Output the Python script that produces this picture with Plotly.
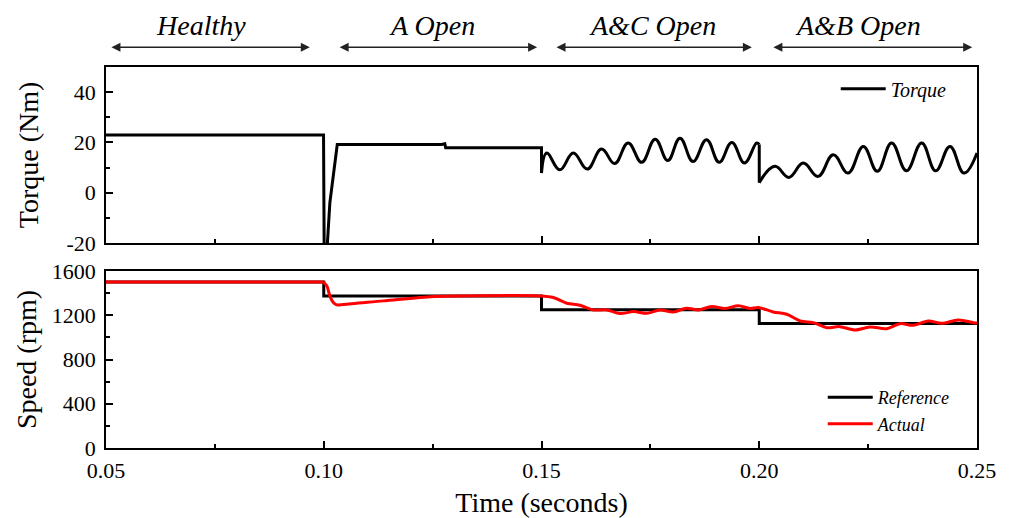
import plotly.graph_objects as go
from plotly.subplots import make_subplots

# ---- Torque (Nm): step / transient segments ----
torque_step_t = [0.05, 0.09995, 0.1001, 0.1007, 0.1014, 0.1031, 0.1270, 0.1278, 0.1280, 0.15, 0.15,
                 None, 0.2, 0.2]
torque_step_v = [23.0, 23.0, -24.0, -24.0, -4.0, 19.2, 19.2, 19.5, 17.9, 17.9, 7.8,
                 None, 19.2, 4.0]

# ---- Torque (Nm): oscillation with phases A & C open ----
torque_ac_t = [0.15, 0.1512, 0.1542, 0.1573, 0.1605, 0.1638, 0.1668, 0.1699, 0.1730,
               0.1761, 0.1790, 0.1818, 0.1848, 0.1879, 0.1908, 0.1937, 0.1966, 0.1994, 0.2]
torque_ac_v = [7.8, 15.8, 9.1, 15.8, 9.4, 17.4, 11.6, 19.8, 12.1,
               21.3, 12.8, 21.7, 12.4, 21.1, 12.1, 20.0, 11.8, 19.8, 19.2]

# ---- Torque (Nm): oscillation with phases A & B open ----
torque_ab_t = [0.2, 0.2036, 0.2068, 0.2101, 0.2135, 0.2170, 0.2204, 0.2239, 0.2271,
               0.2304, 0.2338, 0.2373, 0.2405, 0.2438, 0.2470, 0.25]
torque_ab_v = [4.0, 10.5, 6.1, 11.8, 6.5, 15.1, 7.8, 18.4, 8.5,
               19.8, 8.7, 19.8, 8.7, 18.4, 7.8, 15.8]

# ---- Speed (rpm) ----
ref_t = [0.05, 0.10, 0.15, 0.20, 0.25]
ref_v = [1500, 1375, 1250, 1125, 1125]

act_flat_t = [0.05, 0.0999]
act_flat_v = [1500, 1500]

act_t = [0.0999, 0.1007, 0.1014, 0.1022, 0.1030, 0.1045, 0.1137, 0.1252, 0.1329, 0.1495,
         0.1527, 0.1558, 0.1588, 0.1619, 0.1650, 0.1680, 0.1711, 0.1742, 0.1772,
         0.1803, 0.1833, 0.1860, 0.1891, 0.1921, 0.1952, 0.1979, 0.1998,
         0.2032, 0.2063, 0.2094, 0.2124, 0.2155, 0.2185, 0.2220, 0.2254, 0.2293,
         0.2323, 0.2354, 0.2388, 0.2419, 0.2457, 0.2492, 0.2500]
act_v = [1500, 1466, 1375, 1315, 1294, 1297, 1330, 1370, 1375, 1375,
         1361, 1309, 1291, 1248, 1248, 1215, 1233, 1218, 1248,
         1230, 1264, 1248, 1279, 1261, 1285, 1261, 1270,
         1230, 1209, 1148, 1133, 1088, 1097, 1066, 1094, 1079,
         1124, 1109, 1148, 1127, 1157, 1133, 1130]

# ---- Operating phase labels ----
phase_labels = ["Healthy", "A Open", "A&C Open", "A&B Open"]
phase_start = [0.0509, 0.1033, 0.1531, 0.2029]
phase_end = [0.0968, 0.1490, 0.1983, 0.2489]
phase_center = [0.0718, 0.1249, 0.1756, 0.2227]

FONT = "Liberation Serif"
TICK = dict(family=FONT, size=22, color="black")
TITLE = dict(family=FONT, size=28, color="black")

fig = make_subplots(rows=2, cols=1, shared_xaxes=False)

fig.add_trace(go.Scatter(x=torque_step_t, y=torque_step_v, mode="lines",
                         line=dict(color="black", width=3), connectgaps=False,
                         name="<i>Torque</i>", legend="legend", showlegend=True),
              row=1, col=1)
for tt, tv in ((torque_ac_t, torque_ac_v), (torque_ab_t, torque_ab_v)):
    fig.add_trace(go.Scatter(x=tt, y=tv, mode="lines",
                             line=dict(color="black", width=3, shape="spline", smoothing=1.2),
                             showlegend=False), row=1, col=1)

fig.add_trace(go.Scatter(x=ref_t, y=ref_v, mode="lines",
                         line=dict(color="black", width=3, shape="hv"),
                         name="<i>Reference</i>", legend="legend2"), row=2, col=1)
fig.add_trace(go.Scatter(x=act_flat_t, y=act_flat_v, mode="lines",
                         line=dict(color="#ff0000", width=3),
                         showlegend=False), row=2, col=1)
fig.add_trace(go.Scatter(x=act_t, y=act_v, mode="lines",
                         line=dict(color="#ff0000", width=3, shape="spline", smoothing=0.9),
                         name="<i>Actual</i>", legend="legend2"), row=2, col=1)

axis_common = dict(showline=True, linecolor="black", linewidth=1.5, mirror=True,
                   ticks="inside", ticklen=7, tickwidth=1.5, tickcolor="black",
                   showgrid=False, zeroline=False, tickfont=TICK, automargin=False)

top_dom = [(448 - 243) / 381, 1.0]
bot_dom = [0.0, (448 - 271) / 381]

x_ticks = [0.05, 0.10, 0.15, 0.20, 0.25]
x_text = ["0.05", "0.10", "0.15", "0.20", "0.25"]
fig.update_xaxes(**axis_common, range=[0.05, 0.25], tickvals=x_ticks, ticktext=x_text,
                 minor=dict(ticks="inside", ticklen=4, tickwidth=1.5, tickcolor="black",
                            dtick=0.025, tick0=0.05))
fig.update_xaxes(showticklabels=False, row=1, col=1)
fig.update_xaxes(ticklabelstandoff=2,
                 title=dict(text="Time (seconds)", font=TITLE, standoff=10),
                 row=2, col=1)

torque_ticks = [-20, 0, 20, 40]
torque_text = ["-20", "0", "20", "40"]
speed_ticks = [0, 400, 800, 1200, 1600]
speed_text = ["0", "400", "800", "1200", "1600"]

fig.update_yaxes(**axis_common, row=1, col=1, domain=top_dom, range=[-20, 50],
                 tickvals=torque_ticks, ticktext=torque_text, ticklabelstandoff=4,
                 minor=dict(ticks="inside", ticklen=4, tickwidth=1.5, tickcolor="black",
                            dtick=10, tick0=-20),
                 title=dict(text="Torque (Nm)", font=TITLE, standoff=20))
fig.update_yaxes(**axis_common, row=2, col=1, domain=bot_dom, range=[0, 1600],
                 tickvals=speed_ticks, ticktext=speed_text, ticklabelstandoff=4,
                 minor=dict(ticks="inside", ticklen=4, tickwidth=1.5, tickcolor="black",
                            dtick=200, tick0=0),
                 title=dict(text="Speed (rpm)", font=TITLE, standoff=7))

# Phase annotations: double-headed arrows with italic titles above the plots
annotations = []
for lab, s, e, c in zip(phase_labels, phase_start, phase_end, phase_center):
    annotations.append(dict(x=e, ax=s, xref="x", axref="x", y=1.052, yref="paper",
                            ay=0, ayref="pixel", text="", showarrow=True,
                            arrowside="end+start", arrowhead=2, arrowsize=1.2,
                            arrowwidth=1.5, arrowcolor="#222222"))
    annotations.append(dict(x=c, xref="x", y=1.11, yref="paper", text=f"<i>{lab}</i>",
                            showarrow=False, font=dict(family=FONT, size=28, color="black"),
                            yanchor="middle"))

fig.update_layout(
    width=1009, height=518,
    margin=dict(l=106, r=32, t=67, b=70),
    paper_bgcolor="white", plot_bgcolor="white",
    font=dict(family=FONT, color="black"),
    annotations=annotations,
    legend=dict(x=0.971, y=0.994, xanchor="right", yanchor="top",
                bgcolor="rgba(0,0,0,0)", itemwidth=45,
                font=dict(family=FONT, size=20, color="black")),
    legend2=dict(x=0.9756, y=0.181, xanchor="right", yanchor="top",
                 bgcolor="rgba(0,0,0,0)", itemwidth=45, tracegroupgap=0,
                 font=dict(family=FONT, size=18, color="black")),
)

fig.write_html("out.html")
